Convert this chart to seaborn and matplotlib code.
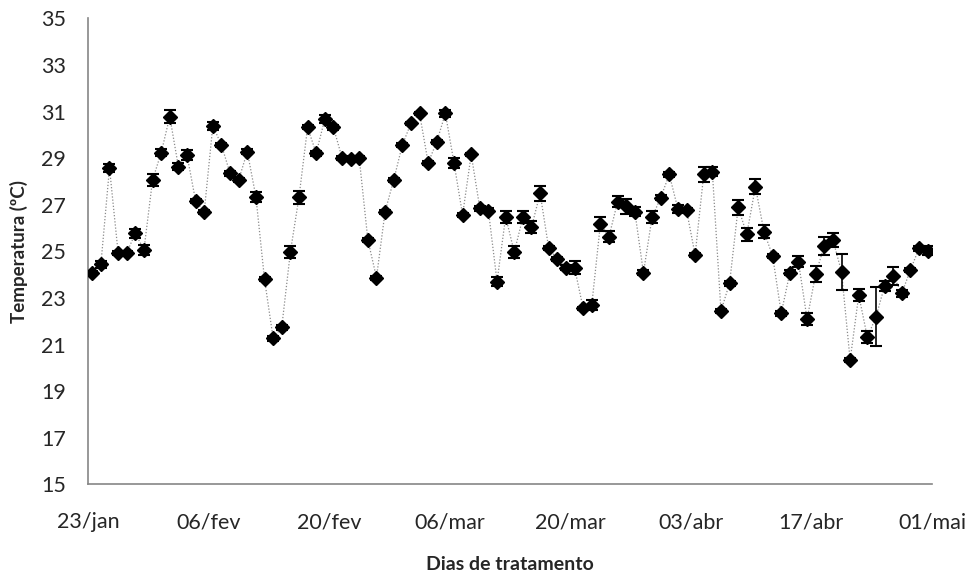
import numpy as np
import pandas as pd
import matplotlib
matplotlib.use("Agg")
import matplotlib.pyplot as plt
import seaborn as sns

# ---- data ----
temps = [24.08, 24.44, 28.58, 24.94, 24.94, 25.77, 25.06, 28.06, 29.23, 30.78,
         28.63, 29.13, 27.16, 26.70, 30.39, 29.56, 28.35, 28.06, 29.28, 27.34,
         23.80, 21.27, 21.74, 24.96, 27.32, 30.32, 29.21, 30.68, 30.32, 29.02,
         28.95, 28.99, 25.49, 23.87, 26.70, 28.06, 29.56, 30.49, 30.92, 28.80,
         29.70, 30.92, 28.80, 26.56, 29.16, 26.85, 26.74, 23.70, 26.49, 24.96,
         26.46, 26.03, 27.49, 25.13, 24.67, 24.30, 24.30, 22.55, 22.70, 26.17,
         25.63, 27.13, 26.94, 26.70, 24.08, 26.46, 27.30, 28.30, 26.82, 26.77,
         24.84, 28.30, 28.42, 22.44, 23.63, 26.89, 25.73, 27.77, 25.84, 24.80,
         22.34, 24.08, 24.55, 22.09, 24.03, 25.23, 25.49, 24.12, 20.33, 23.12,
         21.31, 22.19, 23.51, 23.95, 23.20, 24.20, 25.13, 25.03]
errors = [0.08, 0.14, 0.16, 0.08, 0.08, 0.18, 0.21, 0.24, 0.14, 0.29,
          0.16, 0.21, 0.08, 0.08, 0.18, 0.08, 0.10, 0.08, 0.10, 0.21,
          0.08, 0.10, 0.10, 0.25, 0.27, 0.08, 0.10, 0.18, 0.10, 0.08,
          0.08, 0.08, 0.08, 0.08, 0.08, 0.10, 0.08, 0.08, 0.08, 0.08,
          0.08, 0.16, 0.21, 0.08, 0.08, 0.10, 0.10, 0.21, 0.26, 0.25,
          0.26, 0.25, 0.31, 0.08, 0.08, 0.10, 0.29, 0.08, 0.21, 0.29,
          0.24, 0.24, 0.32, 0.19, 0.10, 0.25, 0.10, 0.10, 0.18, 0.10,
          0.08, 0.32, 0.18, 0.08, 0.10, 0.32, 0.27, 0.32, 0.29, 0.08,
          0.10, 0.10, 0.23, 0.25, 0.36, 0.39, 0.29, 0.76, 0.10, 0.26,
          0.26, 1.27, 0.21, 0.39, 0.15, 0.10, 0.10, 0.19]
tick_days = [0, 14, 28, 42, 56, 70, 84, 98]
tick_labels = ["23/jan", "06/fev", "20/fev", "06/mar", "20/mar", "03/abr", "17/abr", "01/mai"]
y_ticks = [15, 17, 19, 21, 23, 25, 27, 29, 31, 33, 35]

df = pd.DataFrame({"dia": np.arange(len(temps)) + 0.5, "temp": temps, "err": errors})

sns.set_style("white")
plt.rcParams["font.family"] = ["Lato", "DejaVu Sans"]

fig = plt.figure(figsize=(9.72, 5.76), dpi=100)
ax = fig.add_axes([0.0905, 0.1592, 0.8683, 0.8090])

sns.lineplot(data=df, x="dia", y="temp", ax=ax, color="#8a8a8a",
             linestyle=(0, (1, 1.5)), linewidth=0.9, zorder=1)
ax.errorbar(df["dia"], df["temp"], yerr=df["err"], fmt="none", ecolor="black",
            elinewidth=1.2, capsize=4, capthick=1.5, zorder=2)
ax.plot(df["dia"], df["temp"], linestyle="none", marker="D", markersize=7,
        color="black", zorder=3)

ax.set_xlim(0, 98)
ax.set_ylim(15, 35)
ax.set_xticks(tick_days)
ax.set_xticklabels(tick_labels)
ax.set_yticks(y_ticks)
ax.tick_params(axis="both", which="both", direction="out", length=5, width=1,
               color="#868686", labelsize=15.5)
ax.tick_params(axis="y", pad=11)
ax.tick_params(axis="x", pad=15)
for s in ["top", "right"]:
    ax.spines[s].set_visible(False)
for s in ["left", "bottom"]:
    ax.spines[s].set_color("#868686")
    ax.spines[s].set_linewidth(1.2)

ax.set_xlabel("Dias de tratamento", fontsize=14, fontweight="bold", labelpad=17)
ax.set_ylabel("Temperatura (ºC)", fontsize=13.5, fontweight="bold", labelpad=9)

fig.savefig("out.png", dpi=100, facecolor="white")
